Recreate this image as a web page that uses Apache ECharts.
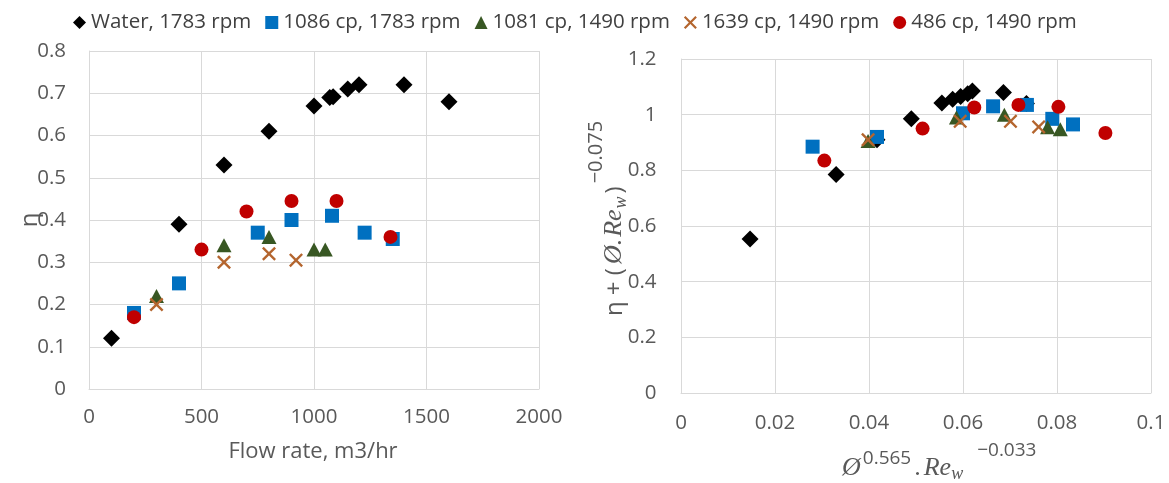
<!DOCTYPE html>
<html>
<head>
<meta charset="utf-8">
<script src="https://cdn.jsdelivr.net/npm/echarts@6/dist/echarts.min.js"></script>
<style>html,body{margin:0;padding:0;background:#fff;}#c{width:1169px;height:483px;}</style>
</head>
<body>
<div id="c"></div>
<script>
// ---- data ----
const seriesNames = ['Water, 1783 rpm', '1086 cp, 1783 rpm', '1081 cp, 1490 rpm', '1639 cp, 1490 rpm', '486 cp, 1490 rpm'];

const leftWaterX = [100, 400, 600, 800, 1000, 1070, 1085, 1150, 1200, 1400, 1600];
const leftWaterY = [0.12, 0.39, 0.53, 0.61, 0.67, 0.69, 0.692, 0.71, 0.72, 0.72, 0.68];
const leftBlueX = [200, 400, 750, 900, 1080, 1225, 1350];
const leftBlueY = [0.18, 0.25, 0.37, 0.40, 0.41, 0.37, 0.355];
const leftGreenX = [300, 600, 800, 1000, 1050];
const leftGreenY = [0.22, 0.34, 0.36, 0.33, 0.33];
const leftCrossX = [300, 600, 800, 920];
const leftCrossY = [0.20, 0.30, 0.32, 0.305];
const leftRedX = [200, 500, 700, 900, 1100, 1340];
const leftRedY = [0.17, 0.33, 0.42, 0.445, 0.445, 0.36];

const rightWaterX = [0.0147, 0.033, 0.0417, 0.049, 0.0555, 0.0578, 0.0595, 0.061, 0.062, 0.0686, 0.0735];
const rightWaterY = [0.553, 0.785, 0.91, 0.985, 1.042, 1.055, 1.065, 1.075, 1.085, 1.08, 1.04];
const rightBlueX = [0.028, 0.0417, 0.060, 0.0664, 0.0736, 0.079, 0.0834];
const rightBlueY = [0.885, 0.92, 1.005, 1.03, 1.035, 0.985, 0.965];
const rightGreenX = [0.0398, 0.0586, 0.0688, 0.078, 0.0807];
const rightGreenY = [0.905, 0.99, 1.0, 0.955, 0.948];
const rightCrossX = [0.0398, 0.0594, 0.0701, 0.0761];
const rightCrossY = [0.91, 0.976, 0.976, 0.956];
const rightRedX = [0.0305, 0.0514, 0.0624, 0.0718, 0.0803, 0.0903];
const rightRedY = [0.835, 0.95, 1.026, 1.035, 1.028, 0.934];

const leftXTicks = { min: 0, max: 2000, interval: 500 };
const leftYTicks = { min: 0, max: 0.8, interval: 0.1 };
const rightXTicks = { min: 0, max: 0.1, interval: 0.02 };
const rightYTicks = { min: 0, max: 1.2, interval: 0.2 };

// ---- styles ----
const colors = ['#000000', '#0070C0', '#385723', '#B4652E', '#C00000'];
const crossPath = 'path://M0,1.2 L1.2,0 L5,3.8 L8.8,0 L10,1.2 L6.2,5 L10,8.8 L8.8,10 L5,6.2 L1.2,10 L0,8.8 L3.8,5 Z';
const symbols = ['diamond', 'rect', 'triangle', crossPath, 'circle'];
const sizes = [17, 14, [15, 14], 14, 14];
const SANS = '"Open Sans", "Noto Sans", sans-serif';
const SERIF = '"Liberation Serif", "DejaVu Serif", serif';
const labelColor = '#595959';
const gridColor = '#D9D9D9';

function zip(xs, ys) { return xs.map((x, i) => [x, ys[i]]); }
const leftSets = [[leftWaterX, leftWaterY], [leftBlueX, leftBlueY], [leftGreenX, leftGreenY], [leftCrossX, leftCrossY], [leftRedX, leftRedY]];
const rightSets = [[rightWaterX, rightWaterY], [rightBlueX, rightBlueY], [rightGreenX, rightGreenY], [rightCrossX, rightCrossY], [rightRedX, rightRedY]];

const series = [];
[leftSets, rightSets].forEach((sets, gi) => {
  sets.forEach((s, i) => {
    series.push({
      type: 'scatter', name: seriesNames[i], xAxisIndex: gi, yAxisIndex: gi,
      data: zip(s[0], s[1]), symbol: symbols[i], symbolSize: sizes[i],
      itemStyle: { color: colors[i], opacity: 1 },
      emphasis: { disabled: true }, animation: false
    });
  });
});

function fmt(v) { return String(+v.toFixed(4)); }
function axisCommon(t, margin) {
  return {
    type: 'value', min: t.min, max: t.max, interval: t.interval,
    axisLine: { show: true, lineStyle: { color: gridColor, width: 1 } },
    axisTick: { show: false },
    splitLine: { show: true, lineStyle: { color: gridColor, width: 1 } },
    axisLabel: { color: labelColor, fontFamily: SANS, fontSize: 20.5, margin: margin, formatter: fmt, showMinLabel: true, showMaxLabel: true }
  };
}

const option = {
  backgroundColor: '#ffffff',
  animation: false,
  legend: {
    left: 68, top: 7, itemGap: 14, itemWidth: 13, itemHeight: 13,
    data: seriesNames,
    textStyle: { color: '#404040', fontFamily: SANS, fontSize: 20.5 },
    selectedMode: false
  },
  grid: [
    { left: 89, top: 51, width: 450, height: 338 },
    { left: 681, top: 59, width: 470, height: 334 }
  ],
  xAxis: [
    Object.assign(axisCommon(leftXTicks, 18), { gridIndex: 0 }),
    Object.assign(axisCommon(rightXTicks, 20), { gridIndex: 1 })
  ],
  yAxis: [
    Object.assign(axisCommon(leftYTicks, 23), { gridIndex: 0 }),
    Object.assign(axisCommon(rightYTicks, 24.5), { gridIndex: 1 })
  ],
  series: series,
  graphic: [
    { type: 'text', x: 313, y: 452, style: { text: 'Flow rate, m3/hr', fill: labelColor, font: '22px ' + SANS, align: 'center', verticalAlign: 'middle' } },
    { type: 'text', x: 30, y: 220, rotation: Math.PI / 2, style: { text: 'η', fill: labelColor, font: '24px ' + SANS, align: 'center', verticalAlign: 'middle' } },
    { type: 'text', x: 842, y: 483, style: {
        text: '{it|Ø}{sup1|0.565}{b|.}{it|Re}{sub|w}{sup2|−0.033}',
        align: 'left', verticalAlign: 'bottom', fill: labelColor,
        rich: {
          it: { fontFamily: SERIF, fontStyle: 'italic', fontSize: 26, fill: labelColor, verticalAlign: 'bottom', padding: [0, 0, 2, 0] },
          b: { fontFamily: SERIF, fontSize: 26, fill: labelColor, verticalAlign: 'bottom', padding: [0, 3, 2, 3] },
          sub: { fontFamily: SERIF, fontStyle: 'italic', fontSize: 18, fill: labelColor, verticalAlign: 'bottom', padding: [0, 0, 0, 0] },
          sup1: { fontFamily: SANS, fontSize: 19, fill: labelColor, verticalAlign: 'bottom', padding: [0, 0, 15, 2] },
          sup2: { fontFamily: SANS, fontSize: 19, fill: labelColor, verticalAlign: 'bottom', padding: [0, 0, 23, 14] }
        }
      } },
    { type: 'text', x: 630, y: 220, rotation: Math.PI / 2, style: {
        text: '{n|η + (}{it|Ø.}{it|Re}{sub|w}{n|)}{sup|−0.075}',
        align: 'center', verticalAlign: 'bottom', fill: labelColor,
        rich: {
          n: { fontFamily: SANS, fontSize: 24, fill: labelColor, verticalAlign: 'bottom', padding: [0, 3, 3, 3] },
          it: { fontFamily: SERIF, fontStyle: 'italic', fontSize: 26, fill: labelColor, verticalAlign: 'bottom', padding: [0, 1, 3, 1] },
          sub: { fontFamily: SERIF, fontStyle: 'italic', fontSize: 18, fill: labelColor, verticalAlign: 'bottom', padding: [0, 0, 0, 0] },
          sup: { fontFamily: SANS, fontSize: 20, fill: labelColor, verticalAlign: 'bottom', padding: [0, 0, 24, 0] }
        }
      } }
  ]
};

const chart = echarts.init(document.getElementById('c'), null, { renderer: 'canvas' });
chart.setOption(option);
</script>
</body>
</html>
